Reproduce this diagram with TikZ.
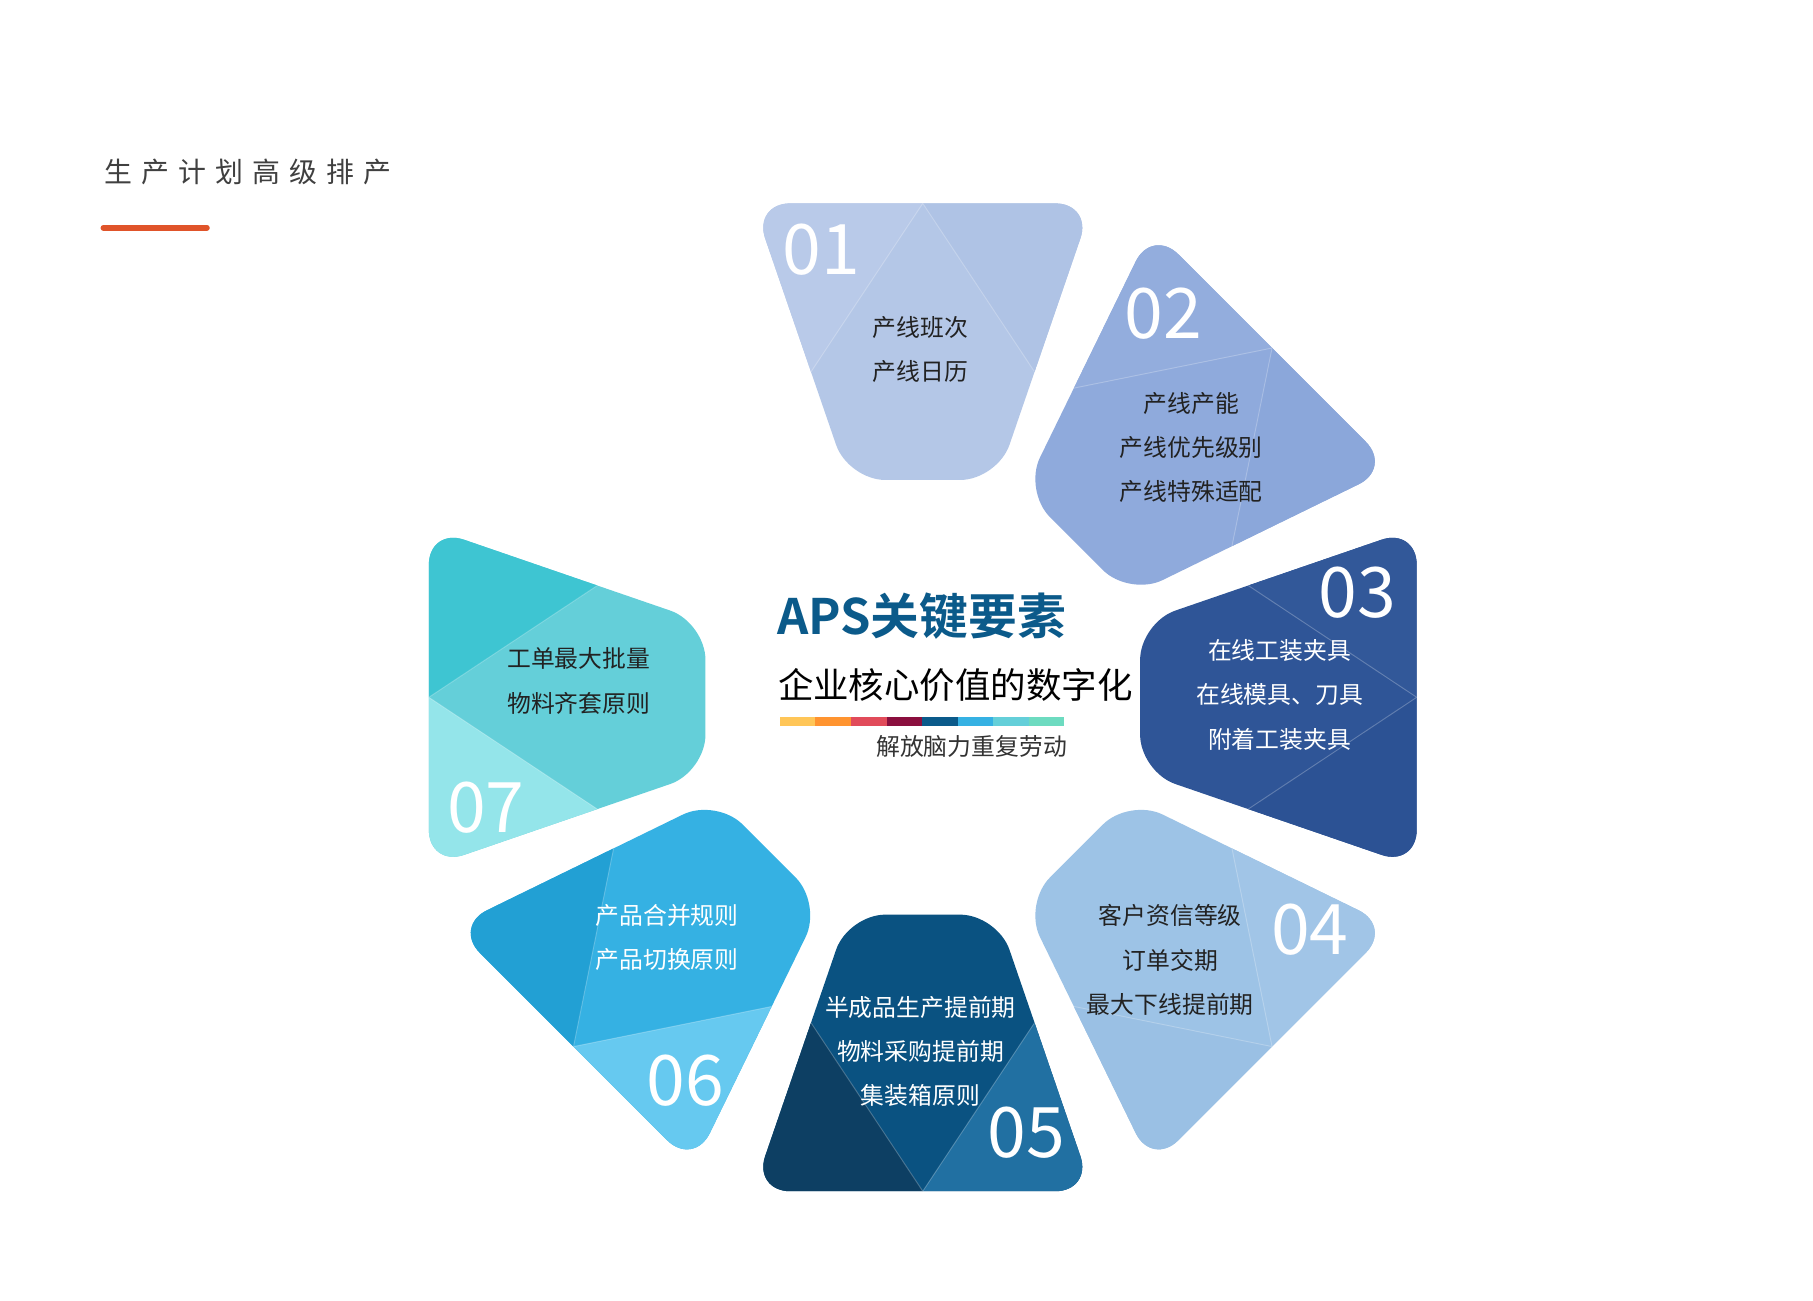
\documentclass[tikz,border=0pt]{standalone}
\usepackage{fontspec}
\setmainfont{Noto Sans CJK SC}
\newfontfamily\cjkb{Noto Sans CJK SC Bold}
\definecolor{cA}{HTML}{B4C7E7}
\definecolor{cAa}{HTML}{B9CAE9}
\definecolor{cAb}{HTML}{AFC3E5}
\definecolor{cB}{HTML}{8FAADC}
\definecolor{cBa}{HTML}{93ADDD}
\definecolor{cBb}{HTML}{8BA7DA}
\definecolor{cC}{HTML}{2F5597}
\definecolor{cCa}{HTML}{325899}
\definecolor{cCb}{HTML}{2C5294}
\definecolor{cD}{HTML}{9DC3E6}
\definecolor{cDa}{HTML}{A1C5E7}
\definecolor{cDb}{HTML}{9AC0E4}
\definecolor{cE}{HTML}{0A5281}
\definecolor{cEa}{HTML}{2170A2}
\definecolor{cEb}{HTML}{0D3F63}
\definecolor{cF}{HTML}{35B1E3}
\definecolor{cFa}{HTML}{66C9F0}
\definecolor{cFb}{HTML}{22A0D4}
\definecolor{cG}{HTML}{64CFD9}
\definecolor{cGa}{HTML}{94E5EA}
\definecolor{cGb}{HTML}{3EC5D2}
\definecolor{apsblue}{HTML}{0B5A8A}
\definecolor{txtdark}{HTML}{222222}
\definecolor{orangebar}{HTML}{E0542A}
\tikzset{
  numtxt/.style={text=white,font=\fontsize{60}{60}\selectfont,inner sep=0pt},
  itemtxt/.style={font=\fontsize{20.5}{38}\selectfont,align=center,inner sep=0pt},
}
\newcommand{\petal}[4]{%
  \begin{scope}[shift={(794,519)},rotate=#1]
    \begin{scope}
      \clip[rounded corners=32pt] (187,-64.2)--(425,-146)--(425,146)--(187,64.2)--cycle;
      \fill[#2] (150,-200) rectangle (460,200);
      \fill[#3] (425,0)--(500,0)--(500,200)--(280,96.2)--cycle;
      \fill[#4] (425,0)--(500,0)--(500,-200)--(280,-96.2)--cycle;
      \draw[white,opacity=0.25,line width=0.8pt] (280,96.2)--(425,0)--(280,-96.2);
    \end{scope}
  \end{scope}}
\begin{document}
\begin{tikzpicture}[x=1pt,y=1pt]
\useasboundingbox (0,0) rectangle (1560,1119);
\fill[white] (0,0) rectangle (1560,1119);
% title
\node[anchor=west,text=black!75,font=\fontsize{24}{24}\selectfont\addfontfeature{LetterSpace=33}] (title) at (86,971) {生产计划高级排产};
\draw[orangebar,line width=5pt,line cap=round] (89,923)--(178,923);
% petals
\petal{90}{cA}{cAa}{cAb}
\petal{45}{cB}{cBa}{cBb}
\petal{0}{cC}{cCa}{cCb}
\petal{-45}{cD}{cDa}{cDb}
\petal{-90}{cE}{cEa}{cEb}
\petal{-135}{cF}{cFa}{cFb}
\petal{180}{cG}{cGa}{cGb}
% numbers
\node[numtxt] (n1) at (707,904) {01};
\node[numtxt] (n2) at (1001,849) {02};
\node[numtxt] (n3) at (1168,609) {03};
\node[numtxt] (n4) at (1127,319) {04};
\node[numtxt] (n5) at (883,144) {05};
\node[numtxt] (n6) at (590,189) {06};
\node[numtxt] (n7) at (418,424) {07};
% items
\node[itemtxt,text=txtdark] (t1) at (792,818) {产线班次\\产线日历};
\node[itemtxt,text=txtdark] (t2) at (1025,734) {产线产能\\产线优先级别\\产线特殊适配};
\node[itemtxt,text=white] (t3) at (1101,521) {在线工装夹具\\在线模具、刀具\\附着工装夹具};
\node[itemtxt,text=txtdark] (t4) at (1007,293) {客户资信等级\\订单交期\\最大下线提前期};
\node[itemtxt,text=white] (t5) at (792,214) {半成品生产提前期\\物料采购提前期\\集装箱原则};
\node[itemtxt,text=white] (t6) at (574,312) {产品合并规则\\产品切换原则};
\node[itemtxt,text=txtdark] (t7) at (498,533) {工单最大批量\\物料齐套原则};
% center
\node[text=apsblue,font=\cjkb\fontsize{42}{42}\selectfont,inner sep=0pt] (aps) at (793,589) {APS关键要素};
\node[text=black,font=\fontsize{30.5}{31}\selectfont,inner sep=0pt] (sub) at (822,530) {企业核心价值的数字化};
\foreach \c [count=\i from 0] in {FFC658,FF9430,E14B5A,8A0F3E,0B5A8A,35B1E3,64CFD9,6DDBC0}{
  \definecolor{barc}{HTML}{\c}
  \fill[barc] ({671+\i*30.6},494) rectangle ({671+(\i+1)*30.6},502);
}
\node[text=black!80,font=\fontsize{20.5}{21}\selectfont,inner sep=0pt] (sub2) at (836,477) {解放脑力重复劳动};
\end{tikzpicture}
\end{document}
